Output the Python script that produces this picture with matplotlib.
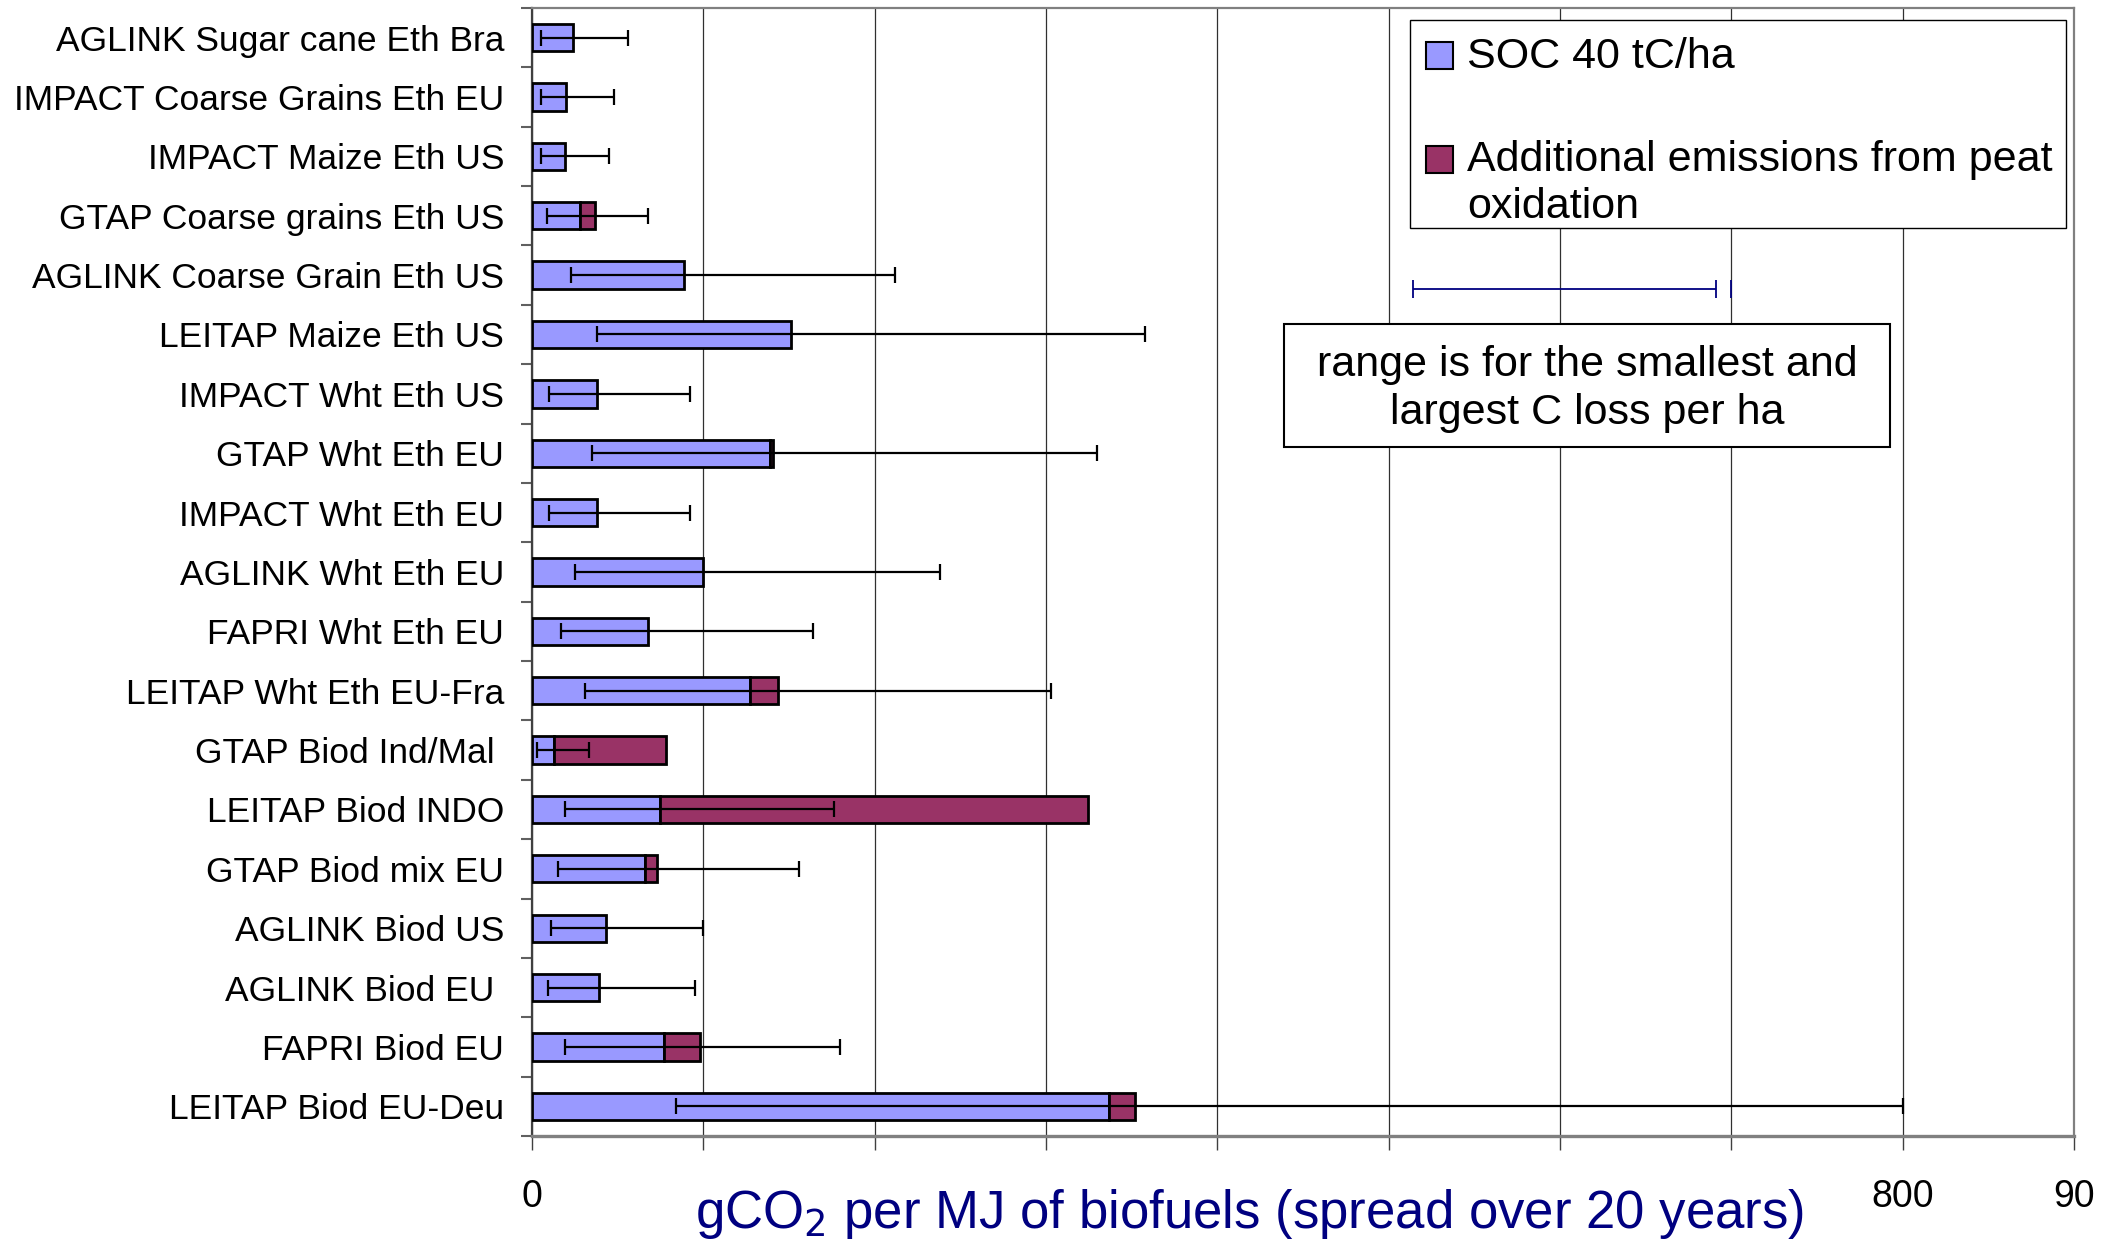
import numpy as np
import matplotlib
matplotlib.use("Agg")
import matplotlib.pyplot as plt
from matplotlib.patches import Rectangle

plt.rcParams['font.family'] = ['Liberation Sans', 'DejaVu Sans']

# data (gCO2/MJ)
labels = ['AGLINK Sugar cane Eth Bra', 'IMPACT Coarse Grains Eth EU', 'IMPACT Maize Eth US',
          'GTAP Coarse grains Eth US', 'AGLINK Coarse Grain Eth US', 'LEITAP Maize Eth US',
          'IMPACT Wht Eth US', 'GTAP Wht Eth EU', 'IMPACT Wht Eth EU', 'AGLINK Wht Eth EU',
          'FAPRI Wht Eth EU', 'LEITAP Wht Eth EU-Fra', 'GTAP Biod Ind/Mal ', 'LEITAP Biod INDO',
          'GTAP Biod mix EU', 'AGLINK Biod US', 'AGLINK Biod EU ', 'FAPRI Biod EU',
          'LEITAP Biod EU-Deu']
soc  = [24, 20, 19, 28, 89, 151, 38, 139, 38, 100, 68, 127, 13, 74.5, 66, 43, 39, 77, 336.5]
peat = [0, 0, 0, 9, 0, 0, 0, 1.5, 0, 0, 0, 16.5, 65, 250, 7, 0, 0, 21, 15.5]
low  = [5.5, 5, 5, 9, 23, 38, 10, 35, 10, 25, 17, 31, 3, 19, 15, 11, 9.5, 19, 84]
high = [56, 48, 45, 68, 212, 358, 92, 330, 92, 238, 164, 303, 33, 176, 156, 100, 95, 180, 800]

xticks = [0, 100, 200, 300, 400, 500, 600, 700, 800, 900]
xticklabels = ['0', '', '', '', '', '', '', '', '800', '90']

legend_labels = ['SOC 40 tC/ha', 'Additional emissions from peat\noxidation']
range_lo, range_hi, range_mark = 514, 691, 700

blue = '#9999FF'
plum = '#993366'
navy = '#000080'

fig = plt.figure(figsize=(21.06, 12.41), dpi=100)
ax = fig.add_axes([0.2526, 0.0846, 0.7322, 0.9090])

y = np.arange(len(labels))
soc = np.array(soc)
peat = np.array(peat)
ax.barh(y, soc, height=0.46, color=blue, edgecolor='black', linewidth=2, zorder=3)
m = peat > 0
ax.barh(y[m], peat[m], left=soc[m], height=0.46, color=plum, edgecolor='black',
        linewidth=2, zorder=3)
err = [soc - np.array(low), np.array(high) - soc]
ax.errorbar(soc, y, xerr=err, fmt='none', ecolor='black', elinewidth=1.6,
            capsize=6, capthick=1.6, zorder=4)

ax.set_xlim(0, 900)
ax.set_ylim(len(labels) - 0.5, -0.5)
ax.set_xticks(xticks)
ax.set_xticklabels(xticklabels, fontsize=27)
ax.set_yticks(y)
ax.set_yticklabels(labels, fontsize=25.5)
ax.set_yticks(np.arange(len(labels) + 1) - 0.5, minor=True)
ax.tick_params(axis='y', which='major', length=0, pad=20)
ax.tick_params(axis='y', which='minor', length=8, width=1.5, color='#606060', direction='out')
ax.tick_params(axis='x', length=10, width=1, color='#404040', pad=21)
ax.grid(axis='x', color='#303030', linewidth=0.9, zorder=0)
ax.set_axisbelow(True)
for s in ['top', 'right', 'bottom']:
    ax.spines[s].set_color('#808080')
    ax.spines[s].set_linewidth(1.6)
ax.spines['bottom'].set_linewidth(2.4)
ax.spines['left'].set_color('#404040')
ax.spines['left'].set_linewidth(1.6)

ax.set_xlabel('gCO$_2$ per MJ of biofuels (spread over 20 years)', fontsize=38, color=navy,
              va='center')
ax.xaxis.set_label_coords(0.4656, -0.0695)

# legend box (handles sit on the first line of each label)
ax.add_patch(Rectangle((0.5694, 0.805), 0.4254, 0.1844, transform=ax.transAxes,
                       facecolor='white', edgecolor='black', linewidth=1.0, zorder=5))
for col, yc in zip([blue, plum], [0.9575, 0.8660]):
    ax.add_patch(Rectangle((0.5798, yc - 0.012), 0.0175, 0.024, transform=ax.transAxes,
                           facecolor=col, edgecolor='black', linewidth=1.5, zorder=6))
ax.text(0.6063, 0.9562, legend_labels[0], transform=ax.transAxes, fontsize=31,
        va='center', ha='left', zorder=6)
ax.text(0.6063, 0.8650, legend_labels[1].split('\n')[0], transform=ax.transAxes, fontsize=31,
        va='center', ha='left', zorder=6)
ax.text(0.6063, 0.8235, legend_labels[1].split('\n')[1], transform=ax.transAxes, fontsize=31,
        va='center', ha='left', zorder=6)

# range indicator
tr = ax.get_xaxis_transform()
ax.hlines(0.751, range_lo, range_hi, color=navy, linewidth=1.3, transform=tr)
ax.vlines([range_lo, range_hi], 0.743, 0.759, color=navy, linewidth=1.3, transform=tr)
ax.vlines(range_mark, 0.743, 0.759, color=navy, linewidth=1.3, transform=tr)

ax.add_patch(Rectangle((0.4877, 0.6108), 0.393, 0.109, transform=ax.transAxes,
                       facecolor='white', edgecolor='black', linewidth=1.5, zorder=5))
ax.text(0.6845, 0.662, 'range is for the smallest and\nlargest C loss per ha', transform=ax.transAxes,
        ha='center', va='center', fontsize=31, linespacing=1.25, zorder=6)

fig.savefig('out.png', dpi=100)
